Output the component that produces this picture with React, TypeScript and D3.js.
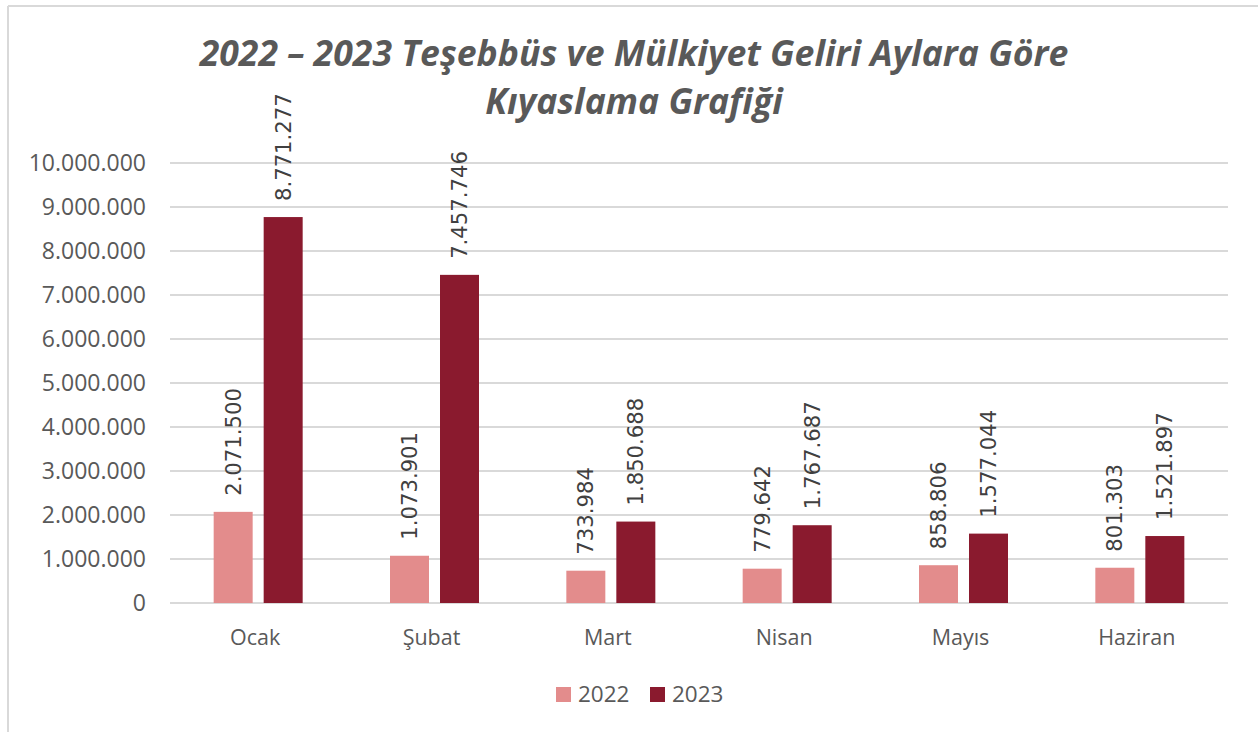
import React from "react";
import * as d3 from "d3";

const months = ["Ocak", "Şubat", "Mart", "Nisan", "Mayıs", "Haziran"];
const series = ["2022", "2023"];
const values2022 = [2071500, 1073901, 733984, 779642, 858806, 801303];
const values2023 = [8771277, 7457746, 1850688, 1767687, 1577044, 1521897];
const yTicks = [0, 1000000, 2000000, 3000000, 4000000, 5000000, 6000000, 7000000, 8000000, 9000000, 10000000];
const titleLines = ["2022 – 2023 Teşebbüs ve Mülkiyet Geliri Aylara Göre", "Kıyaslama Grafiği"];

const colors = ["#E38C8C", "#8A1A2E"];

const fmt = (v: number) => d3.format(",")(v).replace(/,/g, ".");

export default function App() {
  const W = 1258, H = 732;
  const left = 170, right = 1228, top = 163, bottom = 603;
  const x = d3.scaleBand<string>().domain(months).range([left, right]);
  const y = d3.scaleLinear().domain([0, 10000000]).range([bottom, top]);
  const barW = 39, gap = 11;
  const data = [values2022, values2023];
  const axisFont = "Open Sans, Liberation Sans, sans-serif";
  return (
    <svg width={W} height={H} style={{ position: "absolute", left: 0, top: 0 }}>
      <rect x={0} y={0} width={W} height={H} fill="#fff" />
      <line x1={8} y1={6} x2={W} y2={6} stroke="#d9d9d9" strokeWidth={2} />
      <line x1={8} y1={6} x2={8} y2={H} stroke="#d9d9d9" strokeWidth={2} />
      {titleLines.map((t, i) => (
        <text key={i} x={634} y={66 + i * 48} textAnchor="middle" fontFamily={axisFont}
          fontWeight="bold" fontStyle="italic" fontSize={35.6} fill="#595959">{t}</text>
      ))}
      {yTicks.map((t) => (
        <g key={t}>
          <line x1={left} x2={right} y1={y(t)} y2={y(t)} stroke="#d9d9d9" strokeWidth={2} />
          <text x={146} y={y(t)} dy="0.35em" textAnchor="end" fontFamily={axisFont} fontSize={23} fill="#595959">{fmt(t)}</text>
        </g>
      ))}
      {months.map((m, i) => {
        const cx = (x(m) as number) + x.bandwidth() / 2;
        return (
          <g key={m}>
            {data.map((vals, s) => {
              const bx = s === 0 ? cx - gap / 2 - barW : cx + gap / 2;
              const by = y(vals[i]);
              const lx = bx + barW / 2;
              const ly = by - 16;
              return (
                <g key={s}>
                  <rect x={bx} y={by} width={barW} height={bottom - by} fill={colors[s]} />
                  <text transform={`translate(${lx},${ly}) rotate(-90)`} dy="0.35em" fontFamily="DejaVu Sans, sans-serif"
                    fontSize={21.2} fill="#404040">{fmt(vals[i])}</text>
                </g>
              );
            })}
            <text x={cx - 3} y={645} textAnchor="middle" fontFamily={axisFont} fontSize={21.5} fill="#595959">{m}</text>
          </g>
        );
      })}
      {series.map((s, i) => {
        const lx = 556 + i * 94;
        return (
          <g key={s}>
            <rect x={lx} y={687} width={15} height={15} fill={colors[i]} />
            <text x={lx + 22} y={702} fontFamily={axisFont} fontSize={22.5} fill="#595959">{s}</text>
          </g>
        );
      })}
    </svg>
  );
}
